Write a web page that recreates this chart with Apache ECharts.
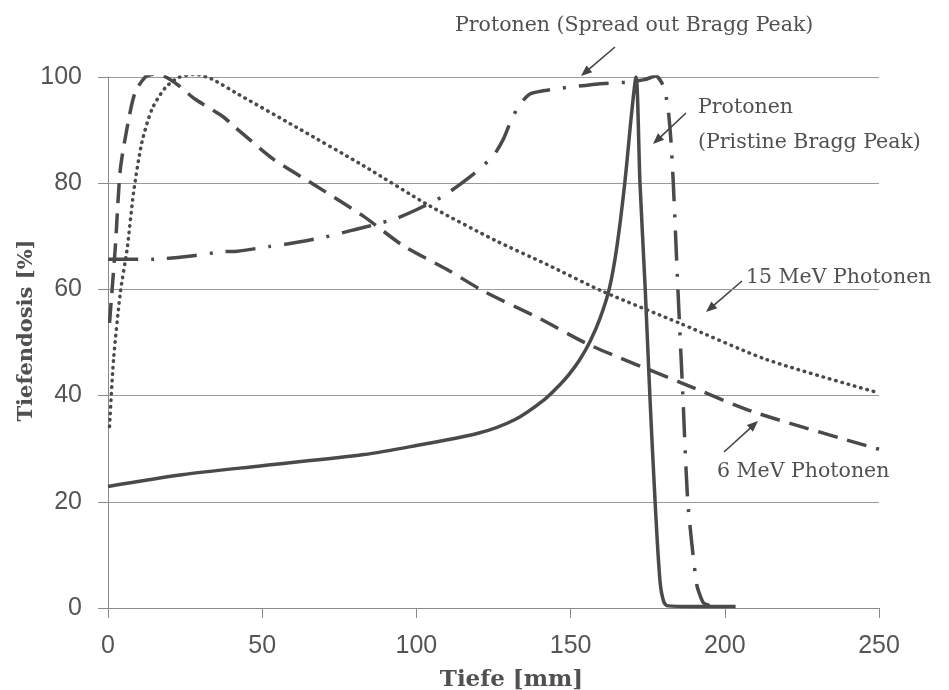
<!DOCTYPE html>
<html>
<head>
<meta charset="utf-8">
<script src="https://cdn.jsdelivr.net/npm/echarts@6/dist/echarts.min.js"></script>
<style>
  html, body { margin: 0; padding: 0; background: #ffffff; }
  #chart { width: 949px; height: 690px; }
</style>
</head>
<body>
<div id="chart"></div>
<script>
// ---- Data ----
var xTicks = [0, 50, 100, 150, 200, 250];
var yTicks = [0, 20, 40, 60, 80, 100];

// Protonen (Pristine Bragg Peak) - solid
var pristineX = [0, 24, 50, 83, 100, 120, 132, 141.6, 146.6, 149.5, 153, 156.3, 159.5, 162.5, 165, 167.6, 169.8, 171.2, 172.5, 174.2, 175.7, 177.4, 179, 180.2, 181.5, 190, 203.5];
var pristineY = [22.9, 25.1, 26.8, 28.9, 30.6, 32.9, 35.5, 39.3, 42.1, 44.0, 46.8, 50.2, 54.5, 60, 68, 80.2, 93.3, 100, 80, 60, 40, 20, 5, 1.2, 0.4, 0.3, 0.3];

// Protonen (Spread out Bragg Peak) - dash-dot
var sobpX = [0, 15, 27, 37, 42, 52.6, 58.5, 70, 79.6, 87.2, 93.6, 100, 108.8, 118.5, 125, 128.2, 130.9, 133.6, 136.8, 141, 147, 159, 168, 174, 177.7, 180, 181.5, 182.5, 183.3, 184.8, 186.4, 188, 190.9, 193, 195];
var sobpY = [65.7, 65.7, 66.3, 67.1, 67.2, 68.1, 68.6, 69.8, 71.2, 72.3, 73.4, 75, 77.6, 81.7, 85.2, 88.3, 92.1, 94.9, 96.8, 97.4, 97.9, 98.7, 99, 99.5, 100.2, 98.4, 94.6, 88.3, 80, 60, 40, 20, 4.4, 1, 0.5];

// 6 MeV Photonen - dashed
var mev6X = [0.5, 2.4, 4, 6.7, 8.8, 12.1, 14.8, 18, 22.9, 28.3, 36.9, 41.3, 53.7, 66.6, 82.8, 95.8, 109.8, 121.7, 140, 156.3, 185.5, 210, 250];
var mev6Y = [53.7, 68.2, 82.6, 92, 97.1, 100, 100.5, 100.2, 98.4, 95.8, 92.7, 90.5, 84.5, 79.8, 73.8, 68.2, 63.8, 59.7, 54.5, 49.5, 42.5, 36.8, 29.9];

// 15 MeV Photonen - dotted
var mev15X = [0.5, 1.8, 4, 6.2, 8.3, 11, 14.3, 18.6, 22.9, 28.3, 33.7, 41.2, 61.2, 82.8, 104.4, 126, 142.3, 160.5, 185.5, 213.5, 250];
var mev15Y = [34.2, 46.8, 59.4, 67.6, 78.3, 87.7, 94, 98, 99.9, 100.5, 99.6, 97.1, 90.5, 83.3, 75.7, 69.1, 64.7, 59.6, 53.6, 46.8, 40.5];

// ---- Build ----
function zip(xs, ys) { return xs.map(function (x, i) { return [x, ys[i]]; }); }

var lineColor = '#4a4a4a';
var textColor = '#505050';
var serif = '"DejaVu Serif", "Liberation Serif", serif';

function arrow(x1, y1, x2, y2) {
  var dx = x2 - x1, dy = y2 - y1;
  var len = Math.sqrt(dx * dx + dy * dy);
  var ux = dx / len, uy = dy / len;
  var hl = 11, hw = 4.5;
  var bx = x2 - ux * hl, by = y2 - uy * hl;
  return [
    { type: 'line', silent: true,
      shape: { x1: x1, y1: y1, x2: bx + ux * 2, y2: by + uy * 2 },
      style: { stroke: '#444', lineWidth: 1.6 } },
    { type: 'polygon', silent: true,
      shape: { points: [[x2, y2], [bx - uy * hw, by + ux * hw], [bx + uy * hw, by - ux * hw]] },
      style: { fill: '#444' } }
  ];
}

function label(text, x, y) {
  return { type: 'text', silent: true,
    style: { text: text, x: x, y: y, font: '20.5px ' + serif, fill: textColor,
             align: 'left', verticalAlign: 'middle', textAlign: 'left', textVerticalAlign: 'middle' } };
}

var graphics = []
  .concat([label('Protonen (Spread out Bragg Peak)', 455, 26)])
  .concat(arrow(615, 47, 581, 76))
  .concat([label('Protonen', 698, 108), label('(Pristine Bragg Peak)', 698, 143)])
  .concat(arrow(686, 113, 653, 144))
  .concat([label('15 MeV Photonen', 746, 278)])
  .concat(arrow(742, 281, 706, 312))
  .concat([label('6 MeV Photonen', 717, 472)])
  .concat(arrow(724, 452, 758, 421));

var chart = echarts.init(document.getElementById('chart'), null, { renderer: 'canvas' });
chart.setOption({
  animation: false,
  backgroundColor: '#ffffff',
  grid: { left: 108, right: 70, top: 77, bottom: 82, containLabel: false, outerBoundsMode: 'none' },
  xAxis: {
    type: 'value', min: xTicks[0], max: xTicks[xTicks.length - 1], interval: xTicks[1] - xTicks[0],
    name: 'Tiefe [mm]', nameLocation: 'middle', nameGap: 61, nameMoveOverlap: false,
    nameTextStyle: { fontFamily: serif, fontWeight: 'bold', fontSize: 23, color: textColor, padding: [0, 0, 0, 36] },
    axisLine: { show: true, lineStyle: { color: '#8a8a8a', width: 1 } },
    axisTick: { show: true, length: 10, lineStyle: { color: '#8a8a8a' } },
    axisLabel: { fontFamily: '"Liberation Sans", Arial, sans-serif', fontSize: 25, color: '#555', margin: 26 },
    splitLine: { show: false }
  },
  yAxis: {
    type: 'value', min: yTicks[0], max: yTicks[yTicks.length - 1], interval: yTicks[1] - yTicks[0],
    name: 'Tiefendosis [%]', nameLocation: 'middle', nameGap: 71, nameRotate: 90, nameMoveOverlap: false,
    nameTextStyle: { fontFamily: serif, fontWeight: 'bold', fontSize: 21, color: textColor, padding: [0, 0, 0, 24] },
    axisLine: { show: true, lineStyle: { color: '#8a8a8a', width: 1 } },
    axisTick: { show: true, length: 10, lineStyle: { color: '#8a8a8a' } },
    axisLabel: { fontFamily: '"Liberation Sans", Arial, sans-serif', fontSize: 25, color: '#555', margin: 26 },
    splitLine: { show: true, lineStyle: { color: '#9a9a9a', width: 1 } }
  },
  series: [
    { name: '15 MeV Photonen', type: 'line', data: zip(mev15X, mev15Y), showSymbol: false,
      smooth: 0.25,
      lineStyle: { color: lineColor, width: 3.5, type: [0.5, 6], cap: 'round' } },
    { name: '6 MeV Photonen', type: 'line', data: zip(mev6X, mev6Y), showSymbol: false,
      smooth: 0.25,
      lineStyle: { color: lineColor, width: 3.5, type: [20, 10] } },
    { name: 'Protonen (Spread out Bragg Peak)', type: 'line', data: zip(sobpX, sobpY), showSymbol: false,
      smooth: 0.2,
      lineStyle: { color: lineColor, width: 3.5, type: [30, 13, 3, 13] } },
    { name: 'Protonen (Pristine Bragg Peak)', type: 'line', data: zip(pristineX, pristineY), showSymbol: false,
      smooth: 0.3,
      lineStyle: { color: lineColor, width: 3.5, type: 'solid', join: 'round' } }
  ],
  graphic: graphics
});
</script>
</body>
</html>
